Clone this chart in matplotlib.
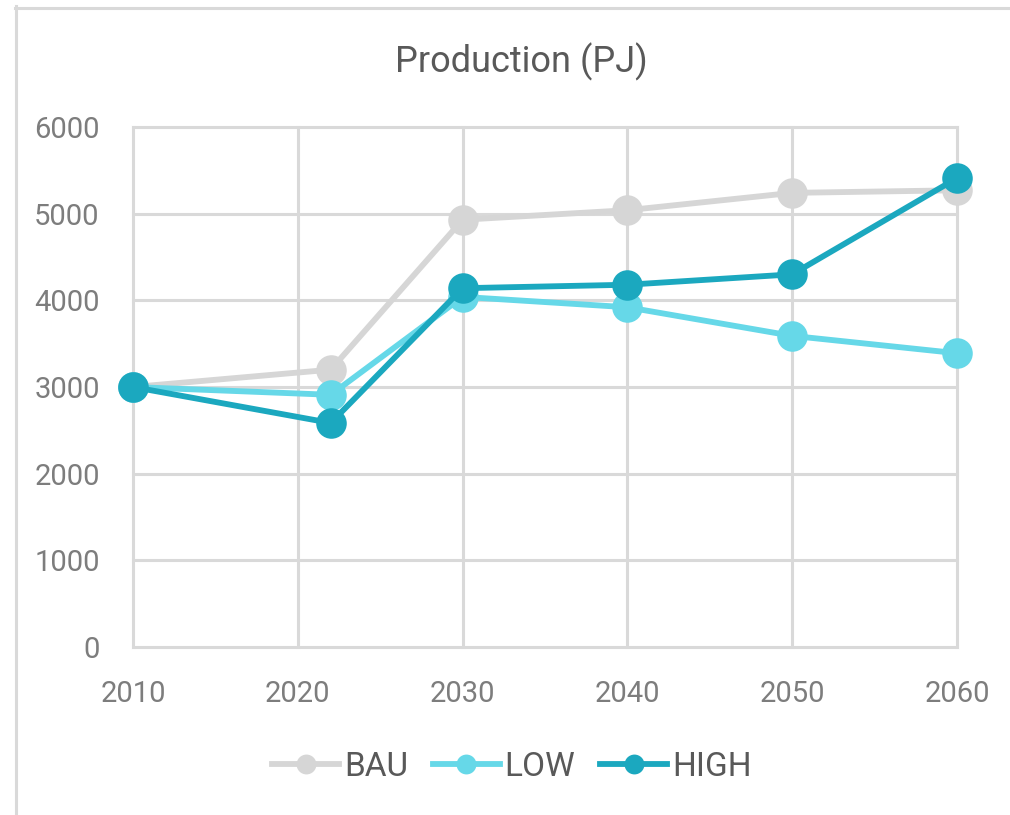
import matplotlib
matplotlib.use("Agg")
import matplotlib.pyplot as plt
from matplotlib.lines import Line2D

# Production by scenario (PJ)
years = [2010, 2022, 2030, 2040, 2050, 2060]
bau = [3000, 3200, 4930, 5040, 5240, 5270]
low = [3000, 2910, 4040, 3920, 3590, 3390]
high = [3000, 2585, 4140, 4180, 4300, 5410]
series_names = ["BAU", "LOW", "HIGH"]
x_ticks = [2010, 2020, 2030, 2040, 2050, 2060]
y_ticks = [0, 1000, 2000, 3000, 4000, 5000, 6000]

colors = ["#d6d6d6", "#66d8e8", "#1ba8bf"]
grid_color = "#d9d9d9"
font = ["Liberation Sans Narrow", "Roboto", "DejaVu Sans"]
plt.rcParams["font.family"] = font

W, H = 1010, 815
fig = plt.figure(figsize=(W / 100, H / 100), dpi=100)
fig.patch.set_facecolor("white")

# thin frame along the top and left edges
fig.add_artist(Line2D([15 / W, 1.0], [1 - 7.5 / H, 1 - 7.5 / H],
                      color=grid_color, lw=2.2, transform=fig.transFigure))
fig.add_artist(Line2D([16 / W, 16 / W], [0, 1 - 6 / H],
                      color=grid_color, lw=2.2, transform=fig.transFigure))

left, right = 133 / W, 957 / W
bottom, top = 1 - 647 / H, 1 - 127 / H
ax = fig.add_axes([left, bottom, right - left, top - bottom])
ax.set_xlim(2010, 2060)
ax.set_ylim(0, 6000)

# grid drawn as plain lines so the outer ones show fully
for xv in x_ticks:
    ax.axvline(xv, color=grid_color, lw=2.2, zorder=0, clip_on=False)
for yv in y_ticks:
    ax.axhline(yv, color=grid_color, lw=2.2, zorder=0, clip_on=False)

for s in ax.spines.values():
    s.set_visible(False)

handles = []
for vals, name, c, z in zip([bau, low, high], series_names, colors, [2, 3, 4]):
    h, = ax.plot(years, vals, color=c, lw=4.2, marker="o", markersize=22,
                 markeredgewidth=0, label=name, zorder=z, clip_on=False)
    handles.append(h)

ax.set_xticks(x_ticks)
ax.set_yticks(y_ticks)
ax.set_xticklabels([str(v) for v in x_ticks])
ax.set_yticklabels([str(v) for v in y_ticks])
ax.tick_params(length=0, labelsize=21, labelcolor="#7d7d7d")
ax.tick_params(axis="x", pad=24)
ax.tick_params(axis="y", pad=24)

fig.text(521 / W, 1 - 62 / H, "Production (PJ)", ha="center", va="center",
         fontsize=26, color="#595959")

leg = fig.legend(handles=handles, loc="center", bbox_to_anchor=(512 / W, 1 - 767 / H),
                 ncol=3, frameon=False, fontsize=24, handlelength=2.0,
                 handletextpad=0.15, columnspacing=0.75, markerscale=0.65,
                 labelcolor="#595959")

fig.savefig("out.png", dpi=100, facecolor="white")
